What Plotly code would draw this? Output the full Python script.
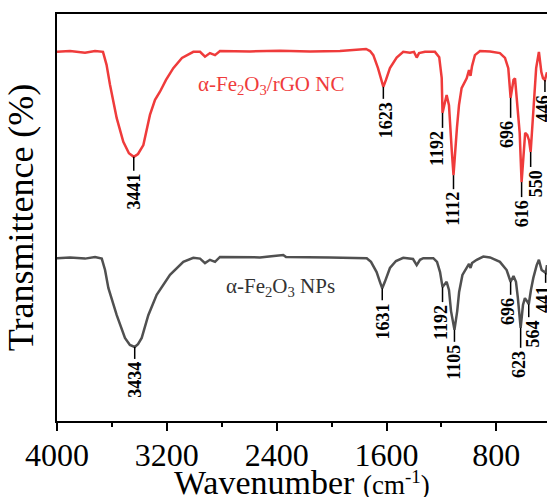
import numpy as np
import plotly.graph_objects as go

# ---------------- data ----------------
red_wn = [4000, 3905, 3796, 3723, 3665, 3639, 3614, 3565, 3517, 3476, 3441, 3410, 3371,
          3323, 3286, 3250, 3206, 3153, 3090, 3007, 2958, 2922, 2886, 2849, 2813, 2594,
          2376, 2157, 1939, 1771, 1749, 1720, 1696, 1662, 1640, 1623, 1604, 1575, 1526,
          1478, 1429, 1400, 1380, 1363, 1320, 1247, 1216, 1198, 1192, 1162, 1145, 1138,
          1125, 1112, 1100, 1087, 1072, 1053, 1016, 999, 988, 977, 956, 919, 846, 774,
          737, 713, 696, 675, 664, 640, 630, 616, 602, 590, 575, 562, 550, 535, 510,
          490, 472, 460, 446, 431]
red_T = [90.7, 90.9, 90.5, 90.9, 90.7, 87.5, 82.6, 74.4, 68.6, 65.8, 64.9, 65.6, 67.8,
         75.2, 78.9, 80.9, 83.8, 86.7, 89.2, 90.7, 90.7, 89.5, 90.4, 89.9, 90.9, 90.8,
         91.0, 90.8, 90.9, 91.2, 91.4, 90.9, 89.9, 86.7, 83.8, 82.1, 83.8, 86.7, 89.3,
         90.7, 90.5, 90.7, 89.3, 90.4, 90.7, 90.7, 89.4, 84.3, 75.7, 80.1, 77.6, 72.7,
         66.6, 60.4, 66.6, 72.0, 77.6, 81.8, 84.2, 86.2, 84.8, 87.2, 89.9, 90.9, 90.8,
         90.4, 89.2, 86.7, 79.4, 83.8, 84.2, 74.4, 70.8, 58.7, 66.6, 70.8, 70.3, 69.0,
         66.1, 74.4, 86.7, 90.7, 85.7, 84.2, 83.8, 85.7]

gray_wn = [4000, 3905, 3796, 3723, 3674, 3650, 3626, 3565, 3505, 3469, 3434, 3410, 3383,
           3335, 3274, 3228, 3177, 3080, 3007, 2958, 2922, 2886, 2849, 2813, 2522, 2352,
           2332, 2012, 1744, 1713, 1672, 1648, 1631, 1612, 1575, 1531, 1478, 1407, 1380,
           1356, 1332, 1259, 1232, 1210, 1192, 1162, 1145, 1130, 1105, 1085, 1071, 1047,
           1014, 999, 988, 977, 943, 895, 846, 774, 725, 696, 675, 657, 643, 623, 606,
           592, 578, 564, 548, 531, 506, 490, 470, 441, 431]
gray_T = [40.0, 40.2, 39.9, 40.3, 39.9, 37.1, 32.7, 26.0, 20.4, 18.7, 18.2, 18.9, 20.4,
          26.0, 31.0, 33.4, 35.9, 39.1, 40.1, 39.9, 38.8, 39.6, 39.1, 40.3, 40.2, 40.8,
          40.3, 40.2, 40.0, 39.1, 36.6, 34.2, 32.6, 34.2, 37.6, 39.3, 40.1, 39.8, 38.3,
          39.6, 40.0, 40.0, 39.1, 36.6, 32.9, 34.2, 32.2, 27.0, 22.4, 27.0, 31.7, 35.9,
          37.6, 38.6, 37.6, 38.8, 39.6, 40.4, 40.2, 39.1, 37.1, 34.2, 35.6, 34.2, 30.2,
          22.9, 28.5, 30.2, 29.5, 28.7, 32.2, 35.1, 38.3, 39.6, 37.1, 36.4, 38.3]

red_peaks = [3441, 1623, 1192, 1112, 696, 616, 550, 446]
gray_peaks = [3434, 1631, 1192, 1105, 696, 623, 564, 441]

red_name = "α-Fe<sub>2</sub>O<sub>3</sub>/rGO NC"
gray_name = "α-Fe<sub>2</sub>O<sub>3</sub> NPs"

x_ticks = [4000, 3200, 2400, 1600, 800]
x_title = "Wavenumber <span style='font-size:27px'>(cm<sup>-1</sup>)</span>"
y_title = "Transmittence (%)"

# ---------------- styling / layout ----------------
RED = "#EF3B3B"
GRAY = "#505050"
FONT = "Times New Roman, Liberation Serif, serif"
PX_PER_T = 4.07  # plot height (407 px) / 100 units

red_mark_len = [14, 12, 15, 14, 20, 15, 15, 12]
gray_mark_len = [12, 12, 15, 12, 13, 20, 13, 10]
red_dx = [0, 2, -5, 0, -3, 0, 6, -2]
gray_dx = [0, 1, -2, 0, -2, -1, 4, -2]

fig = go.Figure()
fig.add_trace(go.Scatter(x=red_wn, y=red_T, mode="lines",
                         line=dict(color=RED, width=2.5), showlegend=False))
fig.add_trace(go.Scatter(x=gray_wn, y=gray_T, mode="lines",
                         line=dict(color=GRAY, width=2.5), showlegend=False))

shapes = []
annotations = []


def add_labels(wn, T, peaks, lens, dxs):
    xs = np.array(wn[::-1], dtype=float)
    ys = np.array(T[::-1], dtype=float)
    for p, ln, dx in zip(peaks, lens, dxs):
        top = float(np.interp(p, xs, ys))
        bot = top - ln / PX_PER_T
        shapes.append(dict(type="line", xref="x", yref="y", x0=p, x1=p, y0=top, y1=bot,
                           line=dict(color="black", width=1.5)))
        annotations.append(dict(x=p, y=bot, xref="x", yref="y", text=f"<b>{p}</b>",
                                showarrow=False, textangle=-90, xanchor="center",
                                yanchor="top", yshift=-1, xshift=dx,
                                font=dict(family=FONT, size=18, color="black")))


add_labels(red_wn, red_T, red_peaks, red_mark_len, red_dx)
add_labels(gray_wn, gray_T, gray_peaks, gray_mark_len, gray_dx)

annotations.append(dict(x=2441, y=82.5, xref="x", yref="y", text=red_name, showarrow=False,
                        font=dict(family=FONT, size=21, color=RED)))
annotations.append(dict(x=2369, y=33.0, xref="x", yref="y", text=gray_name, showarrow=False,
                        font=dict(family=FONT, size=21, color="#333333")))
# x-axis title placed as a paper annotation so it can sit low in the margin
annotations.append(dict(x=0.5, y=-0.15, xref="paper", yref="paper", text=x_title,
                        showarrow=False, xanchor="center", yanchor="middle",
                        font=dict(family=FONT, size=34, color="black")))

fig.update_layout(
    width=547, height=497,
    margin=dict(l=57, r=0, t=14, b=76),
    paper_bgcolor="white", plot_bgcolor="white",
    font=dict(family=FONT, color="black"),
    shapes=shapes, annotations=annotations,
)
fig.update_xaxes(
    range=[4000, 431], tickmode="array", tickvals=x_ticks,
    ticktext=[str(v) for v in x_ticks],
    ticks="outside", ticklen=8, tickwidth=2, tickcolor="black",
    ticklabelstandoff=-3,
    minor=dict(dtick=400, tick0=0, ticks="outside", ticklen=4, tickwidth=2,
               tickcolor="black", showgrid=False),
    showline=True, linewidth=2, linecolor="black", mirror=True,
    showgrid=False, zeroline=False,
    tickfont=dict(family=FONT, size=32, color="black"),
    automargin=False,
)
fig.update_yaxes(
    range=[0, 100], showline=True, linewidth=2, linecolor="black", mirror=False,
    showticklabels=False, ticks="", showgrid=False, zeroline=False,
    title=dict(text=y_title, font=dict(family=FONT, size=36, color="black"),
               standoff=10),
    automargin=False,
)

fig.write_html("out.html", config={"displayModeBar": False},
               post_script="document.body.style.margin='0';document.body.style.overflow='hidden';")
